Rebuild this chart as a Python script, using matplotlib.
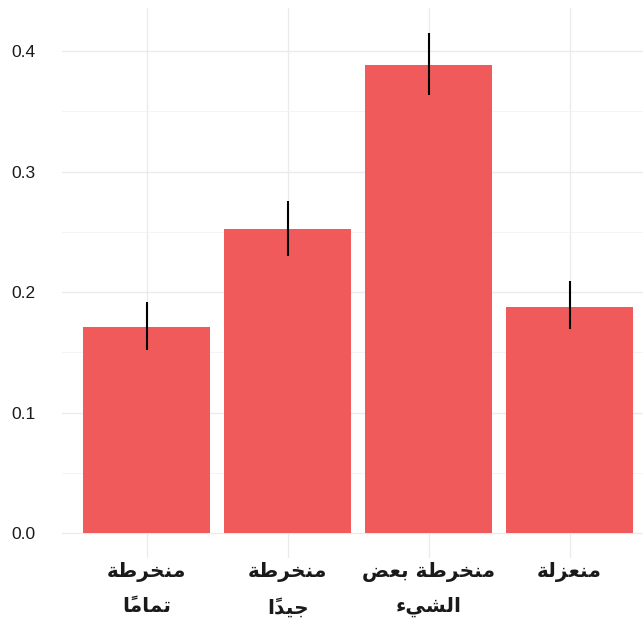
import matplotlib
matplotlib.use("Agg")
import matplotlib.pyplot as plt
import numpy as np

# ---- data ----
categories = ["منخرطة تماماً", "منخرطة جيداً", "منخرطة بعض الشيء", "منعزلة"]
label_lines = [["منخرطة", "تماماً"], ["منخرطة", "جيداً"], ["منخرطة بعض", "الشيء"], ["منعزلة"]]
values = [0.171, 0.252, 0.388, 0.1875]
err_low = [0.152, 0.230, 0.3635, 0.169]
err_high = [0.1915, 0.2755, 0.415, 0.209]
yticks = [0.0, 0.1, 0.2, 0.3, 0.4]
ytick_labels = ["0.0", "0.1", "0.2", "0.3", "0.4"]

# ---- minimal Arabic shaping (presentation forms) ----
FORMS = {
    0x0621: (0xFE80, 1), 0x0627: (0xFE8D, 2), 0x0628: (0xFE8F, 4), 0x0629: (0xFE93, 2),
    0x062A: (0xFE95, 4), 0x062C: (0xFE9D, 4), 0x062E: (0xFEA5, 4), 0x062F: (0xFEA9, 2),
    0x0631: (0xFEAD, 2), 0x0632: (0xFEAF, 2), 0x0634: (0xFEB5, 4), 0x0636: (0xFEBD, 4),
    0x0637: (0xFEC1, 4), 0x0639: (0xFEC9, 4), 0x0644: (0xFEDD, 4), 0x0645: (0xFEE1, 4),
    0x0646: (0xFEE5, 4), 0x064A: (0xFEF1, 4),
}

def is_mark(c):
    return 0x064B <= ord(c) <= 0x0652

def shape(text):
    chars = list(text)
    idx = [i for i, c in enumerate(chars) if not is_mark(c)]
    out = list(chars)
    for k, i in enumerate(idx):
        cp = ord(chars[i])
        if cp not in FORMS:
            continue
        iso, n = FORMS[cp]
        prev = ord(chars[idx[k - 1]]) if k > 0 else None
        nxt = ord(chars[idx[k + 1]]) if k + 1 < len(idx) else None
        join_prev = prev is not None and prev in FORMS and FORMS[prev][1] == 4
        join_next = n == 4 and nxt is not None and nxt in FORMS and FORMS[nxt][1] > 1
        if n == 1:
            form = iso
        elif join_prev and join_next:
            form = iso + 3
        elif join_prev:
            form = iso + 1
        elif join_next:
            form = iso + 2
        else:
            form = iso
        out[i] = chr(form)
    clusters = []
    for c in out:
        if is_mark(c) and clusters:
            clusters[-1] += c
        else:
            clusters.append(c)
    return "".join(reversed(clusters))

shaped_labels = ["\n".join(shape(l) for l in lines) for lines in label_lines]

# ---- plot ----
fig = plt.figure(figsize=(6.43, 6.37), dpi=100)
W, H = 643, 637
left, right, top, bottom = 62, 643, 8, 558
ax = fig.add_axes([left / W, 1 - bottom / H, (right - left) / W, (bottom - top) / H])

x = np.arange(len(categories))
bar_color = "#F15A5A"
ax.bar(x, values, width=0.9, color=bar_color, zorder=2)
vals = np.array(values)
yerr = np.vstack([vals - np.array(err_low), np.array(err_high) - vals])
ax.errorbar(x, values, yerr=yerr, fmt="none", ecolor="black", elinewidth=1.5, capsize=0, zorder=3)

ax.set_xlim(-0.6, 3.52)
ax.set_ylim(-0.0207, 0.4357)
ax.set_yticks(yticks)
ax.set_yticklabels(ytick_labels, family="Liberation Sans", fontsize=12.5, color="#1a1a1a")
ax.set_yticks([0.05, 0.15, 0.25, 0.35], minor=True)
ax.set_xticks(x)
ax.set_xticklabels(shaped_labels, family="DejaVu Sans", fontsize=14.5, fontweight="bold",
                   color="#1a1a1a", linespacing=2.0, va="top")

ax.grid(which="major", color="#EBEBEB", linewidth=1.0, zorder=0)
ax.grid(which="minor", axis="y", color="#F2F2F2", linewidth=0.6, zorder=0)
for s in ax.spines.values():
    s.set_visible(False)
ax.tick_params(which="both", length=0)
ax.tick_params(axis="y", pad=19)
ax.tick_params(axis="x", pad=3)
ax.set_axisbelow(True)

fig.savefig("out.png", dpi=100)
